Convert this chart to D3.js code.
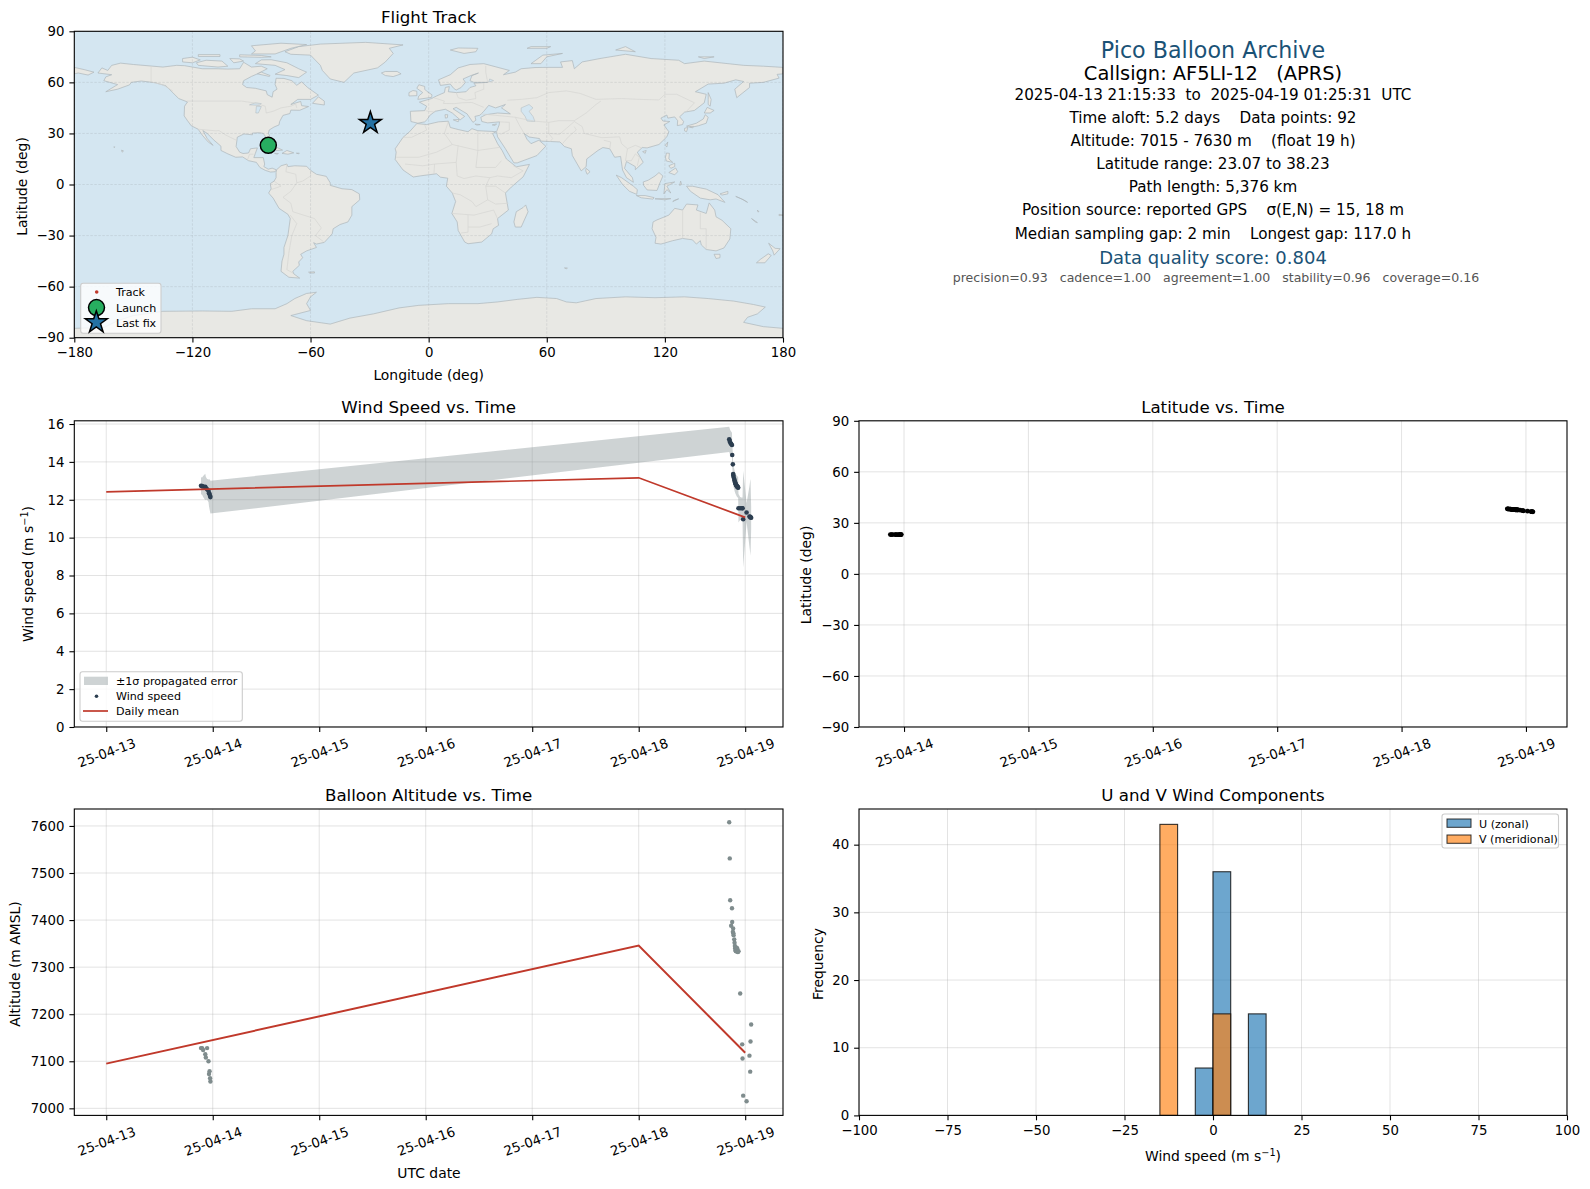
<!DOCTYPE html>
<html>
<head>
<meta charset="utf-8">
<script src="https://d3js.org/d3.v7.min.js"></script>
<style>
  html, body { margin: 0; padding: 0; background: #fff; }
  svg { display: block; }
  text { font-family: "DejaVu Sans", sans-serif; fill: #000; }
</style>
</head>
<body>
<script>
"use strict";

// flight samples, time is days since 2025-04-13 00:00 UTC
var times = [0.89, 0.90, 0.91, 0.93, 0.935, 0.947, 0.96, 0.965, 0.97, 0.975, 0.978,
  5.850, 5.855, 5.859, 5.868, 5.876, 5.878, 5.884, 5.887, 5.889, 5.891, 5.897, 5.900, 5.903,
  5.906, 5.909, 5.912, 5.915, 5.918, 5.921, 5.925, 5.928, 5.931, 5.934, 5.937, 5.953, 5.972,
  5.975, 5.981, 6.013, 6.040, 6.047, 6.050, 6.056];
var windSpeed = [12.74, 12.72, 12.70, 12.68, 12.62, 12.55, 12.48, 12.35, 12.30, 12.20, 12.14,
  15.19, 15.10, 15.02, 14.95, 14.89, 14.36, 13.87, 13.36, 13.28, 13.20, 13.10, 13.02, 12.95,
  12.90, 12.86, 12.82, 12.78, 12.75, 12.72, 12.70, 12.68, 12.66, 12.64, 11.55, 11.55, 11.55,
  11.55, 10.97, 11.33, 11.12, 11.10, 11.07, 11.05];
var windSigma = [0.45, 0.45, 0.55, 0.70, 0.60, 0.55, 0.60, 0.70, 0.80, 0.85, 0.87,
  0.67, 0.67, 0.66, 0.65, 0.65, 0.62, 0.58, 0.55, 0.55, 0.54, 0.54, 0.54, 0.54,
  0.54, 0.54, 0.54, 0.54, 0.54, 0.55, 0.55, 0.55, 0.55, 0.55, 0.75, 0.60, 0.55,
  0.60, 2.56, 0.50, 1.60, 1.90, 2.02, 0.60];
var altitude = [7128, 7128, 7124, 7115, 7108, 7128, 7100, 7073, 7079, 7064, 7057,
  7608, 7531, 7442, 7388, 7425, 7396, 7375, 7382, 7372, 7368, 7359, 7352, 7345,
  7340, 7336, 7334, 7342, 7338, 7333, 7340, 7335, 7332, 7333, 7334, 7244, 7136,
  7106, 7027, 7015, 7112, 7078, 7142, 7178];
var latitude = [23.10, 23.10, 23.09, 23.09, 23.08, 23.08, 23.07, 23.08, 23.08, 23.09, 23.10,
  38.23, 38.20, 38.16, 38.10, 38.05, 38.02, 37.95, 37.92, 37.90, 37.88, 37.85, 37.82, 37.80,
  37.78, 37.76, 37.74, 37.72, 37.70, 37.68, 37.66, 37.64, 37.62, 37.60, 37.58, 37.45, 37.25,
  37.20, 37.10, 36.85, 36.62, 36.58, 36.55, 36.50];

var meanDays = [0, 5, 6];
var meanWind = [12.42, 13.16, 11.07];
var meanAltitude = [7095, 7346, 7118];

var trackLon = [-81.45, -81.2, -80.9, -31.2, -30.4, -29.6];
var trackLat = [23.03, 23.05, 23.08, 37.4, 36.8, 36.13];
var launchFix = [-81.45, 23.03];
var lastFix = [-29.6, 36.13];

var binWidth = 5;
var uBinLeft = [-5, 0, 10];
var uCounts = [7, 36, 15];
var vBinLeft = [-15, 0];
var vCounts = [43, 15];

var lonTicks = [-180, -120, -60, 0, 60, 120, 180];
var latTicks = [-90, -60, -30, 0, 30, 60, 90];
var dayLabels = ["25-04-13", "25-04-14", "25-04-15", "25-04-16", "25-04-17", "25-04-18", "25-04-19"];
var windTicks = [0, 2, 4, 6, 8, 10, 12, 14, 16];
var altTicks = [7000, 7100, 7200, 7300, 7400, 7500, 7600];
var histXTicks = [-100, -75, -50, -25, 0, 25, 50, 75, 100];
var histYTicks = [0, 10, 20, 30, 40];

// coastlines as [lon, lat]
var land = [
  // north america
  [[-168,65.5],[-166,68.5],[-163,67],[-161,70],[-156.5,71.3],[-150,70.5],[-141,69.6],[-135,69],[-128,70],[-124,69.8],[-115,68],[-108,68],[-102,67.8],[-96,68],[-94,71.8],[-90,69],[-85,69.5],[-82,68],[-87,65],[-90,63.5],[-94,61],[-94.5,58.7],[-92.5,57],[-88,56.5],[-82.5,55],[-82,52.8],[-79.5,51.3],[-79,54.5],[-77,56],[-78,58.8],[-77.5,62.4],[-73.5,62.3],[-69.5,61],[-67,58.3],[-64.5,60.3],[-61.5,57],[-56,52.5],[-60,50],[-66.5,50],[-70,47],[-65,48.8],[-64.5,46.3],[-61,45.8],[-65.5,43.6],[-70,43.7],[-70.5,41.7],[-74,40.6],[-75.7,37],[-76,35],[-78.5,33.8],[-81,32],[-81.4,30],[-80,26.8],[-80.4,25.2],[-81.8,26],[-82.8,28],[-84,30],[-86,30.4],[-89.5,30.2],[-89.5,29.2],[-93.8,29.7],[-97.2,27.8],[-97.5,25],[-97.8,22.3],[-96,19],[-94.3,18.2],[-91.5,18.5],[-90.5,21],[-87,21.5],[-88,18.4],[-88.8,15.8],[-84,15.8],[-83.3,12],[-83.7,10.5],[-81.5,9],[-79.5,9.6],[-77.3,8.6],[-78,7.5],[-80.3,7.3],[-83,8.3],[-85.7,10],[-87.5,13],[-91.5,14],[-94.5,16.2],[-98,16],[-102,18],[-105.5,20],[-105.5,22.5],[-109,26],[-112.5,30],[-114.7,31.7],[-112.5,27],[-109.5,23],[-112,25],[-115,29],[-117.1,32.5],[-120.6,34.5],[-122.5,37.5],[-124.2,40.3],[-124,46],[-122.5,48.5],[-127,50.5],[-130,54],[-133.5,58],[-139,59.8],[-146,60.8],[-151,60],[-152,58.5],[-158,56],[-164,54.5],[-158,58.7],[-162,60],[-165,61],[-164,63.2],[-161,64.5]],
  // greenland and the arctic islands
  [[-73,78],[-66,81],[-55,82.5],[-32,83.5],[-13,82],[-20,80],[-18,77],[-22,72],[-26,68.5],[-38,65.5],[-43,60],[-50,62],[-54,67],[-55,70],[-60,76],[-70,76.5]],
  [[-80,73.3],[-72,71.5],[-66,68],[-62,66],[-66,62.8],[-72,64],[-78,64.8],[-73,67.5],[-78,70],[-88,71],[-85,73.2]],
  [[-117,70],[-107,69],[-102,69.5],[-105,72.5],[-113,73],[-118,71.5]],
  [[-125,72],[-120,71.5],[-116,73.2],[-120,74.8],[-125,74]],
  [[-90,76.7],[-78,76.7],[-70,80],[-62,82.2],[-75,83],[-90,81.5],[-88,78.5]],
  [[-96,75],[-85,74.7],[-80,75],[-85,75.8],[-96,76.2]],
  [[-117,75.2],[-106,75.2],[-106,76.3],[-117,76.3]],
  [[-87,65],[-81,63.5],[-80.5,64],[-85,66]],
  [[-101,74],[-96,73.8],[-94,72.5],[-99,71.5]],
  [[-59,47.7],[-53,46.7],[-53,49],[-56,51.5]],
  [[-24,65.5],[-22,64],[-18,63.4],[-14,65],[-16,66.4],[-22,66.4]],
  // caribbean, hawaii, falklands
  [[-85,21.9],[-82,23],[-78,22.3],[-74.2,20.2],[-77.5,19.9],[-78,20.7],[-82,22]],
  [[-74.5,18.3],[-72,20],[-68.5,18.6],[-71.5,17.8]],
  [[-78.3,18.3],[-76.3,18.2],[-77,17.8]],
  [[-67.2,18.4],[-65.7,18.4],[-66,18]],
  [[-156,20.2],[-155,19.7],[-155.7,19]],
  [[-160,22],[-159.3,22.1],[-159.6,21.8]],
  [[-61,-51.5],[-58,-51.3],[-58,-52],[-60.5,-52]],
  // south america
  [[-77.3,8.6],[-75,11],[-72,12],[-71.5,10.5],[-68,11],[-62,10.7],[-60,8.3],[-57,6],[-52,4.8],[-50,1],[-50,-0.5],[-44,-2.5],[-39,-3],[-35.2,-5.5],[-35,-9],[-39,-13],[-39,-18],[-41,-22],[-45,-23.5],[-48.5,-26],[-49,-29],[-53,-34],[-57,-35],[-58.4,-34.2],[-57,-37],[-62,-39],[-65,-41],[-64,-43],[-66,-45.5],[-65.7,-47.5],[-69,-51],[-68.5,-52.5],[-65.5,-55],[-71,-54.5],[-75,-51],[-74.5,-45],[-73.5,-41],[-73.5,-37],[-71.5,-30],[-70.3,-20],[-71.5,-17.5],[-76,-14],[-79,-8],[-81.3,-5],[-80,-2.5],[-80.5,0.5],[-78.5,2],[-77.5,4],[-77.5,7]],
  // antarctica
  [[-180,-84.5],[-165,-84],[-158,-80],[-150,-77],[-135,-74.5],[-115,-74.3],[-100,-74.5],[-90,-73],[-78,-73],[-72,-70],[-68,-67],[-62,-64],[-57,-63.3],[-60,-66],[-62,-70],[-60,-74],[-70,-77],[-62,-80],[-50,-82],[-40,-78.5],[-28,-76],[-15,-72.5],[-5,-71],[10,-70],[25,-70],[35,-69],[45,-67.5],[55,-66.3],[65,-67],[70,-69],[75,-69.5],[85,-67],[100,-66],[115,-66.5],[130,-66],[142,-67],[155,-68.5],[165,-70.5],[171,-72],[167,-76],[162,-78],[160,-81],[170,-83.5],[180,-84.5],[180,-90],[-180,-90]],
  // africa
  [[-6,35.8],[-1,35.2],[5,36.8],[10,37.2],[11,33.5],[15,32.3],[20,31],[22,32.8],[25,31.6],[32,31.2],[34.2,31],[32.5,29.9],[35,24],[37.3,20],[39.5,15],[43.2,11.6],[44.5,10.4],[51.2,11.8],[48,4.5],[42,-1.5],[39,-5],[40.5,-15],[35,-20],[35.5,-24],[32.8,-26],[32,-29],[27,-33.8],[20,-34.8],[18.3,-33.8],[15,-27],[14.5,-22],[11.8,-17],[13.7,-10],[12,-5],[9,-1],[9.7,3.7],[6,4.3],[4,6.3],[-4,5.1],[-7.8,4.4],[-13,8.5],[-17,14.7],[-16.5,19],[-17,21],[-13,27.7],[-9.7,31]],
  [[49.3,-12],[50.5,-16],[47,-25],[44,-25],[43.3,-22],[44.5,-16],[48,-13.5]],
  [[69,-49],[70.5,-49],[70,-49.6]],
  // eurasia
  [[-9,37],[-9.3,43],[-2,43.4],[-1,46],[-4.7,48.4],[1.5,50.5],[4,52],[8,54],[8.5,57],[10.5,57.5],[10,54.5],[14,54],[19,54.5],[21,57],[24,58],[23,59.5],[30,60],[23,60],[21,61],[22,64],[25.3,65.5],[21.5,64],[17.5,62],[18.7,60],[16.5,57],[14,55.5],[12.7,56.5],[11,59],[6,58.2],[5,61.5],[11,64.5],[15,68.5],[21,70.5],[28,71],[41,67],[38,64.5],[44,66],[47,68],[54,68.7],[60,68.8],[68,68.8],[67,72],[73,72.8],[74,68],[78,72],[87,74],[100,76.5],[113,74],[127,73],[130,71],[140,72.5],[152,71],[160,70],[170,69.5],[180,68.8],[180,65],[177,64.7],[178,62.5],[170,60],[163,59.5],[163,57],[156.5,51],[155.5,56],[160,60.5],[156,61.5],[150,59.5],[142,59],[135.5,54.5],[141,53],[140,48],[135,43.5],[130,42.5],[127.5,39.8],[129.5,37],[129,35.2],[126.3,34.6],[126.5,37.5],[125,39.7],[121.5,39],[121,40.8],[118,39],[119,37.3],[122.5,37],[119.5,35],[122,31],[121,28],[117,23.5],[111,21.5],[108.5,21.7],[106,19],[109,13],[105,8.7],[105,10.5],[100.5,13.5],[99.5,9.5],[103.5,4],[104,1.3],[100.5,4],[98.5,8.5],[97.5,16.5],[94.5,16],[92,21],[88.5,21.7],[86,20],[80.3,15],[80,10.5],[77.5,8],[73,17],[72.5,21],[69,22.3],[66.7,25],[57,25.5],[56.3,27],[51,27.9],[48.5,30],[50,26.5],[52,24],[56,26],[59.5,22.5],[55,17],[45,12.7],[43.3,12.7],[39,21],[35,28],[34.5,31],[35.8,35],[36,36.8],[30,36.2],[27,37],[26.5,39.5],[29,41],[35,42],[41.5,41.5],[37,45],[39,47],[34,45],[30.5,46.5],[28,43],[26,40.7],[23.5,40],[24,37.8],[22.5,36.5],[19.5,41.5],[14,45.3],[12.4,44.5],[18.3,40],[16,38],[12,42],[8.5,44.2],[3.3,43],[0.5,40.5],[-0.5,38.5],[-2,36.8],[-5.5,36]],
  [[-180,68.8],[-175,67.5],[-170,66],[-173,64.3],[-178,65.5],[-180,65]],
  // european and russian islands
  [[-5.5,50],[1.5,51.2],[1.7,52.7],[-1,54.8],[-2,56],[-2,57.6],[-5,58.6],[-6,56.5],[-3,54],[-5,52]],
  [[-10,52],[-6,52.2],[-6,54.8],[-8,55.2],[-10,54]],
  [[11,79],[18,77],[24,78],[25,80],[15,80.2]],
  [[52,71],[57,71],[60,75],[68,77],[58,76]],
  [[95,79],[105,78],[100,81]],
  [[137,75],[145,75],[140,74]],
  [[50,80],[60,80],[62,81],[52,81]],
  [[12.5,38],[15.5,38.2],[15,36.8]],
  [[8.3,41],[9.7,41],[9.5,39.2],[8.5,39]],
  [[23.5,35.5],[26.2,35.2],[24.5,34.9]],
  [[32.3,35],[34.5,35.6],[33.8,34.7]],
  // east asia islands
  [[142,54],[143.5,50],[143,46],[142,47],[142,50]],
  [[131,34.3],[136,36],[139.5,38.5],[140.5,41],[142,39.5],[141,36],[137,34.5],[133,33.5]],
  [[140,42],[141.5,45.3],[145,43.5],[143,42]],
  [[130,33],[131.7,33.5],[131,31],[130,31.5]],
  [[132.5,34],[134.5,34.2],[134,33.2]],
  [[120.2,23],[121.5,25],[121,22]],
  [[108.7,19.3],[110.5,20],[110,18.3]],
  [[80,9.5],[82,7.5],[80.5,6],[79.8,8]],
  // indonesia and the pacific
  [[95.3,5.5],[98,4],[104,-1],[106,-3],[105.7,-5.8],[102,-4],[98.5,0]],
  [[105.5,-6.5],[110,-6.5],[114.5,-7.7],[114,-8.6],[108,-7.8]],
  [[109,1.5],[111.5,2.5],[115,5],[117,7],[119,5],[117.5,1],[116,-3.5],[111,-3.2],[109.2,-0.5]],
  [[119.5,-5.5],[120,0.5],[125,1.5],[121,-1],[123,-5],[121,-3]],
  [[131,-1],[134,-1],[138,-2],[141,-2.7],[147,-6],[150.5,-10.5],[146,-8.5],[143,-9],[138,-8],[133,-4]],
  [[120.3,16],[120.8,18.5],[122.3,18.3],[122,15],[124,13],[120.7,13.8]],
  [[122,7],[125.5,9.7],[126.5,7.5],[125,5.7]],
  [[122,11],[125,12.5],[125,10.5],[123,9.5]],
  [[124,-10],[127,-8.4],[125,-9.2]],
  [[115,-8.4],[119,-8.3],[123,-8.3],[120,-9]],
  [[127.5,-0.5],[128,2],[128.5,0]],
  [[156,-7],[160,-9],[162,-10.5],[159,-8.5]],
  [[148,-5.5],[152,-4],[152,-5.5],[149,-6.2]],
  [[164,-20],[167,-22.4],[166,-22]],
  [[178,-17.5],[180,-18],[178,-18.3]],
  [[167,-15],[167.8,-16],[167.2,-16]],
  // australia and new zealand
  [[114,-22],[113.5,-26],[115.5,-31],[115,-34.5],[118,-35],[124,-33],[129,-31.7],[134,-32.5],[136,-35],[138,-33],[138.5,-35.5],[141,-38.2],[146,-39],[150,-37.3],[153,-32],[153.5,-26],[149,-21],[146,-19],[145.3,-15],[142.5,-10.8],[141,-17],[136,-15],[136.8,-12],[131,-11.5],[129,-15],[125,-14],[122,-18],[116,-20.8]],
  [[145,-41],[148,-41],[148,-43],[146,-43.5]],
  [[172.7,-34.5],[176,-37.5],[178.5,-37.7],[175.5,-41.5],[174.8,-39]],
  [[172.5,-40.7],[174,-41.7],[170.8,-46],[166.5,-46],[168.5,-44]]
];
var inlandSeas = [
  [[47,45],[51,47],[53,45],[51,43],[53,40],[54,37],[50,37.3],[49,40],[47,43]],
  [[-88,48],[-85,47.5],[-86,46.5],[-91,46.8]],
  [[-87.5,46],[-85,45.8],[-86.5,42],[-87.8,42]],
  [[31,62],[33,61],[30.5,60.2]]
];
var borders = [
  [[-141,69.6],[-141,60.3],[-135,58.5],[-130,55]],
  [[-123,49],[-95,49],[-89,48],[-83,46],[-82.5,42],[-79,43],[-75,45],[-70,46],[-67.5,47.3],[-67,45]],
  [[-117.1,32.5],[-108,31.5],[-106.5,31.7],[-103,29],[-97.5,25.9]],
  [[-92,14.5],[-91,17.8],[-89,17.8]],
  [[-72,12],[-72.5,7.5],[-67.5,6],[-67,1],[-70,-4],[-74,-7.5],[-70,-11],[-69,-16],[-58,-20],[-54.5,-25.5],[-57.5,-30],[-53.5,-33.5]],
  [[-60,8.3],[-60,5],[-64,2],[-67,1]],
  [[-70.3,-18],[-67,-23],[-69.5,-30],[-71,-40],[-72,-50],[-69,-52]],
  [[-80,-3],[-75,-1],[-78.5,2]],
  [[-1.5,43.3],[3.3,42.5]],
  [[2.5,51],[8,49],[7.5,47.6],[13,47.5],[17,48],[22,48.2],[28,45.3]],
  [[14,54],[15,51],[19,49.5],[24,50.5],[23.5,54],[28,56],[28,59.5]],
  [[30,60],[29,66],[29,69.7]],
  [[40,49.5],[47,50],[55,51],[61,54],[70,55],[77,53.5],[85,50],[98,50.5],[107,50],[117,49.7],[120,53],[126,53],[135,48],[131,43]],
  [[26.5,41.5],[44,39.5],[48,38.5],[54,37.2],[61,36.5],[66,37.5],[74,37.5],[80,42],[85,47],[87.5,49]],
  [[61,36.5],[61,30],[66.5,29.5],[70,33],[74,37]],
  [[44,39.5],[46,35],[48.5,30]],
  [[36,36.8],[41,36.5],[41,32],[36.5,29.5]],
  [[61.5,25],[63,27],[61,30]],
  [[74,37],[78,34],[79,30],[88,27.5],[97,28],[98,24],[101,21],[105,23],[108,21.6]],
  [[68,24],[71,28],[75,32],[74,34]],
  [[92,21],[92.5,25],[89,26]],
  [[101,21],[100,14],[103,14],[105,18],[107,16],[106,11]],
  [[-13,27.7],[-8.7,27.7],[-1,32],[-2,35]],
  [[-16.5,16],[-5,16],[4,19],[12,23.5],[25,20],[37,22]],
  [[10,37],[8,30],[12,23.5]],
  [[25,31.6],[25,20],[24,10],[34,10],[37,14]],
  [[15,23],[14,13],[14.5,5],[18,3.5],[24,5],[31,4],[35,5],[42,4],[48,8],[43,11]],
  [[-12,12],[-3,11],[3,12],[14,13]],
  [[2.7,6.3],[3,12]],
  [[12,-5],[16,-6],[22,-10],[24,-13],[30,-9],[29,-1],[31,4]],
  [[39,-5],[34,-1],[29,-1]],
  [[40.5,-11],[34,-11.5],[30,-9]],
  [[12,-17],[23,-18],[33,-15],[35,-20]],
  [[20,-18],[20,-28],[16.5,-28.5]],
  [[20,-25],[26,-25],[32,-23]],
  [[129,-15],[129,-31.7]],
  [[138,-16.5],[138,-26],[141,-26],[141,-38]]
];

var svg = d3.select("body").append("svg").attr("width", 1590).attr("height", 1189);

var fs = { tick: 13.3, label: 13.9, title: 16.67, legend: 11.1 };
var gridColor = "#b0b0b0";

function panel(box, xScale, yScale, xTicks, yTicks, xFormat, yFormat) {
  var g = svg.append("g");
  var plot = g.append("g");
  var clipId = "clip" + Math.round(box.left) + "_" + Math.round(box.top);
  g.append("clipPath").attr("id", clipId).append("rect")
    .attr("x", box.left).attr("y", box.top)
    .attr("width", box.right - box.left).attr("height", box.bottom - box.top);
  plot.attr("clip-path", "url(#" + clipId + ")");
  var grid = plot.append("g");
  g.grid = function (color, opacity, dash) {
    grid.selectAll(".vg").data(xTicks).enter().append("line")
      .attr("x1", xScale).attr("x2", xScale).attr("y1", box.top).attr("y2", box.bottom)
      .attr("stroke", color).attr("stroke-opacity", opacity).attr("stroke-dasharray", dash);
    grid.selectAll(".hg").data(yTicks).enter().append("line")
      .attr("y1", yScale).attr("y2", yScale).attr("x1", box.left).attr("x2", box.right)
      .attr("stroke", color).attr("stroke-opacity", opacity).attr("stroke-dasharray", dash);
    return g;
  };
  g.plot = plot;
  g.frame = function () {
    var xa = g.append("g").attr("transform", "translate(0," + box.bottom + ")")
      .call(d3.axisBottom(xScale).tickValues(xTicks).tickFormat(xFormat).tickSize(4.9).tickPadding(4.9));
    var ya = g.append("g").attr("transform", "translate(" + box.left + ",0)")
      .call(d3.axisLeft(yScale).tickValues(yTicks).tickFormat(yFormat).tickSize(4.9).tickPadding(4.9));
    [xa, ya].forEach(function (a) {
      a.select(".domain").remove();
      a.selectAll("line").attr("stroke", "#000").attr("stroke-width", 1.1);
      a.selectAll("text").style("font-family", '"DejaVu Sans", sans-serif').style("font-size", fs.tick + "px").attr("fill", "#000");
    });
    g.append("rect").attr("x", box.left).attr("y", box.top)
      .attr("width", box.right - box.left).attr("height", box.bottom - box.top)
      .attr("fill", "none").attr("stroke", "#000").attr("stroke-width", 1.1);
    g.xAxis = xa;
    return g;
  };
  return g;
}

function title(box, s) {
  svg.append("text").attr("x", (box.left + box.right) / 2).attr("y", box.top - 8)
    .attr("text-anchor", "middle").style("font-size", fs.title + "px").text(s);
}
function xLabel(cx, y, s, sup) {
  var t = svg.append("text").attr("x", cx).attr("y", y).attr("text-anchor", "middle").style("font-size", fs.label + "px").text(s);
  if (sup) unitTail(t);
}
function yLabel(cx, cy, s, sup) {
  var t = svg.append("text").attr("transform", "translate(" + cx + "," + cy + ") rotate(-90)")
    .attr("text-anchor", "middle").style("font-size", fs.label + "px").text(s);
  if (sup) unitTail(t);
}
function unitTail(t) {
  t.append("tspan").attr("dy", -5).style("font-size", "9.7px").text("\u22121");
  t.append("tspan").attr("dy", 5).text(")");
}
function rotateDayLabels(g, dy) {
  g.xAxis.selectAll("text").each(function () {
    d3.select(this).attr("y", 0).attr("dy", 0).attr("text-anchor", "middle")
      .attr("dominant-baseline", "central")
      .attr("transform", "translate(0," + dy + ") rotate(-20)");
  });
}
function legendBox(x, y, w, h) {
  svg.append("rect").attr("x", x).attr("y", y).attr("width", w).attr("height", h).attr("rx", 2.5)
    .attr("fill", "#fff").attr("fill-opacity", 0.8).attr("stroke", "#ccc").attr("stroke-width", 1.1);
}
function legendText(x, y, s) {
  svg.append("text").attr("x", x).attr("y", y).style("font-size", fs.legend + "px").text(s);
}

var dayTickFormat = function (d) { return dayLabels[d]; };
var dayTicks = d3.range(dayLabels.length);
var star = d3.symbol().type(d3.symbolStar);

// ---- flight track map
var mapBox = { left: 74.3, right: 783, top: 31.3, bottom: 337.7 };
var lonX = d3.scaleLinear().domain([-180, 180]).range([mapBox.left, mapBox.right]);
var latY = d3.scaleLinear().domain([-90, 90]).range([mapBox.bottom, mapBox.top]);
var mapG = panel(mapBox, lonX, latY, lonTicks, latTicks, d3.format("d"), d3.format("d"));
var geoLine = d3.line().x(function (d) { return lonX(d[0]); }).y(function (d) { return latY(d[1]); });

mapG.plot.insert("rect", ":first-child").attr("x", mapBox.left).attr("y", mapBox.top)
  .attr("width", mapBox.right - mapBox.left).attr("height", mapBox.bottom - mapBox.top).attr("fill", "#d4e6f1");
mapG.plot.selectAll(".land").data(land).enter().append("path")
  .attr("d", function (d) { return geoLine(d) + "Z"; })
  .attr("fill", "#e8e8e4").attr("stroke", "#aeb6ba").attr("stroke-width", 0.7).attr("stroke-linejoin", "round");
mapG.plot.selectAll(".sea").data(inlandSeas).enter().append("path")
  .attr("d", function (d) { return geoLine(d) + "Z"; })
  .attr("fill", "#d4e6f1").attr("stroke", "#aeb6ba").attr("stroke-width", 0.5);
mapG.plot.selectAll(".border").data(borders).enter().append("path")
  .attr("d", geoLine).attr("fill", "none").attr("stroke", "#d6d6d2").attr("stroke-width", 0.7);
var mapGrid = mapG.plot.append("g");
lonTicks.forEach(function (d) {
  mapGrid.append("line").attr("x1", lonX(d)).attr("x2", lonX(d)).attr("y1", mapBox.top).attr("y2", mapBox.bottom);
});
latTicks.forEach(function (d) {
  mapGrid.append("line").attr("y1", latY(d)).attr("y2", latY(d)).attr("x1", mapBox.left).attr("x2", mapBox.right);
});
mapGrid.selectAll("line").attr("stroke", "#8a9296").attr("stroke-opacity", 0.25).attr("stroke-width", 0.8).attr("stroke-dasharray", "2.5,1.5");

mapG.plot.selectAll(".trk").data(trackLon).enter().append("circle")
  .attr("cx", function (d) { return lonX(d); })
  .attr("cy", function (d, i) { return latY(trackLat[i]); })
  .attr("r", 1.8).attr("fill", "#c0392b");
mapG.plot.append("circle").attr("cx", lonX(launchFix[0])).attr("cy", latY(launchFix[1])).attr("r", 8)
  .attr("fill", "#27ae60").attr("stroke", "#000").attr("stroke-width", 1.5);
mapG.plot.append("path").attr("d", star.size(150)())
  .attr("transform", "translate(" + lonX(lastFix[0]) + "," + latY(lastFix[1]) + ")")
  .attr("fill", "#2471a3").attr("stroke", "#000").attr("stroke-width", 1.5);
mapG.frame();
title(mapBox, "Flight Track");
xLabel((mapBox.left + mapBox.right) / 2, 380, "Longitude (deg)");
yLabel(27, 186.5, "Latitude (deg)");

legendBox(80.7, 283.3, 80.3, 50);
svg.append("circle").attr("cx", 96.7).attr("cy", 292).attr("r", 1.8).attr("fill", "#c0392b");
svg.append("circle").attr("cx", 96.5).attr("cy", 307.6).attr("r", 8).attr("fill", "#27ae60").attr("stroke", "#000").attr("stroke-width", 1.5);
svg.append("path").attr("d", star.size(150)()).attr("transform", "translate(96.3,322.4)")
  .attr("fill", "#2471a3").attr("stroke", "#000").attr("stroke-width", 1.5);
legendText(116, 295.5, "Track");
legendText(116, 311.5, "Launch");
legendText(116, 326.5, "Last fix");

// ---- summary text
var infoX = 1213;
var infoLines = [
  { s: "Pico Balloon Archive", y: 58, size: 22.2, color: "#1a5276", dx: 0 },
  { s: "Callsign: AF5LI-12   (APRS)", y: 79.5, size: 19.4, color: "#000", dx: 0 },
  { s: "2025-04-13 21:15:33  to  2025-04-19 01:25:31  UTC", y: 100, size: 15.2, color: "#000", dx: 0 },
  { s: "Time aloft: 5.2 days    Data points: 92", y: 123, size: 15.2, color: "#000", dx: 0 },
  { s: "Altitude: 7015 - 7630 m    (float 19 h)", y: 146, size: 15.2, color: "#000", dx: 0 },
  { s: "Latitude range: 23.07 to 38.23", y: 169, size: 15.2, color: "#000", dx: 0 },
  { s: "Path length: 5,376 km", y: 192, size: 15.2, color: "#000", dx: 0 },
  { s: "Position source: reported GPS    \u03c3(E,N) = 15, 18 m", y: 215, size: 15.2, color: "#000", dx: 0 },
  { s: "Median sampling gap: 2 min    Longest gap: 117.0 h", y: 238.5, size: 15.2, color: "#000", dx: 0 },
  { s: "Data quality score: 0.804", y: 263.5, size: 18, color: "#1a5276", dx: 0 },
  { s: "precision=0.93   cadence=1.00   agreement=1.00   stability=0.96   coverage=0.16", y: 282, size: 12.55, color: "#555", dx: 3 }
];
svg.selectAll(".info").data(infoLines).enter().append("text")
  .attr("x", function (d) { return infoX + d.dx; }).attr("y", function (d) { return d.y; })
  .attr("text-anchor", "middle").attr("xml:space", "preserve").style("white-space", "pre")
  .style("font-size", function (d) { return d.size + "px"; })
  .style("fill", function (d) { return d.color; })
  .text(function (d) { return d.s; });

// ---- wind speed
var windBox = { left: 74.3, right: 783, top: 420.8, bottom: 727 };
var dayX = d3.scaleLinear().domain([-0.3, 6.355]).range([windBox.left, windBox.right]);
var windY = d3.scaleLinear().domain([0, 16.17]).range([windBox.bottom, windBox.top]);
var windG = panel(windBox, dayX, windY, dayTicks, windTicks, dayTickFormat, d3.format("d"));
windG.grid(gridColor, 0.35);
var band = d3.area()
  .x(function (d) { return dayX(times[d]); })
  .y0(function (d) { return windY(windSpeed[d] - windSigma[d]); })
  .y1(function (d) { return windY(windSpeed[d] + windSigma[d]); });
windG.plot.append("path").attr("d", band(d3.range(times.length)))
  .attr("fill", "#7f8c8d").attr("fill-opacity", 0.38);
var meanWindLine = d3.line().x(function (d) { return dayX(d); }).y(function (d, i) { return windY(meanWind[i]); });
windG.plot.selectAll(".wp").data(times).enter().append("circle")
  .attr("cx", function (d) { return dayX(d); })
  .attr("cy", function (d, i) { return windY(windSpeed[i]); })
  .attr("r", 2.3).attr("fill", "#2c3e50");
windG.plot.append("path").attr("d", meanWindLine(meanDays)).attr("fill", "none")
  .attr("stroke", "#c0392b").attr("stroke-width", 1.7);
windG.frame();
rotateDayLabels(windG, 26);
title(windBox, "Wind Speed vs. Time");
yLabel(33, 574, "Wind speed (m s", true);

legendBox(80, 671.7, 162.3, 49.5);
svg.append("rect").attr("x", 84).attr("y", 676.7).attr("width", 24).attr("height", 8.3).attr("fill", "#7f8c8d").attr("fill-opacity", 0.38);
svg.append("circle").attr("cx", 96.5).attr("cy", 696.3).attr("r", 1.8).attr("fill", "#2c3e50");
svg.append("line").attr("x1", 83).attr("x2", 108).attr("y1", 711).attr("y2", 711).attr("stroke", "#c0392b").attr("stroke-width", 1.7);
legendText(116, 684.5, "\u00b11\u03c3 propagated error");
legendText(116, 699.5, "Wind speed");
legendText(116, 715, "Daily mean");

// ---- latitude
var latBox = { left: 859, right: 1567, top: 420.8, bottom: 727 };
var latDayX = d3.scaleLinear().domain([0.638, 6.33]).range([latBox.left, latBox.right]);
var latPanelY = d3.scaleLinear().domain([-90, 90]).range([latBox.bottom, latBox.top]);
var latG = panel(latBox, latDayX, latPanelY, dayTicks.slice(1), latTicks, dayTickFormat, d3.format("d"));
latG.grid(gridColor, 0.35);
latG.plot.selectAll(".lp").data(times).enter().append("circle")
  .attr("cx", function (d) { return latDayX(d); })
  .attr("cy", function (d, i) { return latPanelY(latitude[i]); })
  .attr("r", 2.4).attr("fill", "#000");
latG.frame();
rotateDayLabels(latG, 26);
title(latBox, "Latitude vs. Time");
yLabel(811, 575, "Latitude (deg)");

// ---- altitude
var altBox = { left: 74.3, right: 783, top: 809, bottom: 1115.4 };
var altY = d3.scaleLinear().domain([6985, 7636]).range([altBox.bottom, altBox.top]);
var altG = panel(altBox, dayX, altY, dayTicks, altTicks, dayTickFormat, d3.format("d"));
altG.grid(gridColor, 0.35);
altG.plot.selectAll(".ap").data(times).enter().append("circle")
  .attr("cx", function (d) { return dayX(d); })
  .attr("cy", function (d, i) { return altY(altitude[i]); })
  .attr("r", 2.2).attr("fill", "#7f8c8d");
var meanAltLine = d3.line().x(function (d) { return dayX(d); }).y(function (d, i) { return altY(meanAltitude[i]); });
altG.plot.append("path").attr("d", meanAltLine(meanDays)).attr("fill", "none")
  .attr("stroke", "#c0392b").attr("stroke-width", 2);
altG.frame();
rotateDayLabels(altG, 26);
title(altBox, "Balloon Altitude vs. Time");
xLabel(429, 1178, "UTC date");
yLabel(20, 964, "Altitude (m AMSL)");

// ---- wind components histogram
var histBox = { left: 859, right: 1567, top: 809, bottom: 1115.4 };
var histX = d3.scaleLinear().domain([-100, 100]).range([histBox.left, histBox.right]);
var histY = d3.scaleLinear().domain([0, 45.27]).range([histBox.bottom, histBox.top]);
var histG = panel(histBox, histX, histY, histXTicks, histYTicks, d3.format("d"), d3.format("d"));
histG.grid(gridColor, 0.35);
function bars(lefts, counts, color) {
  histG.plot.append("g").selectAll("rect").data(lefts).enter().append("rect")
    .attr("x", function (d) { return histX(d); })
    .attr("width", function (d) { return histX(d + binWidth) - histX(d); })
    .attr("y", function (d, i) { return histY(counts[i]); })
    .attr("height", function (d, i) { return histY(0) - histY(counts[i]); })
    .attr("fill", color).attr("fill-opacity", 0.65)
    .attr("stroke", "#111").attr("stroke-opacity", 0.85).attr("stroke-width", 1.1);
}
bars(uBinLeft, uCounts, "#1f77b4");
bars(vBinLeft, vCounts, "#ff7f0e");
histG.frame();
title(histBox, "U and V Wind Components");
xLabel(1213, 1161, "Wind speed (m s", true);
yLabel(823, 964, "Frequency");

legendBox(1442, 814, 116.5, 34);
svg.append("rect").attr("x", 1447).attr("y", 819).attr("width", 24).attr("height", 8.3)
  .attr("fill", "#1f77b4").attr("fill-opacity", 0.65).attr("stroke", "#111").attr("stroke-opacity", 0.85);
svg.append("rect").attr("x", 1447).attr("y", 835).attr("width", 24).attr("height", 8.3)
  .attr("fill", "#ff7f0e").attr("fill-opacity", 0.65).attr("stroke", "#111").attr("stroke-opacity", 0.85);
legendText(1479, 828, "U (zonal)");
legendText(1479, 843, "V (meridional)");
</script>
</body>
</html>
